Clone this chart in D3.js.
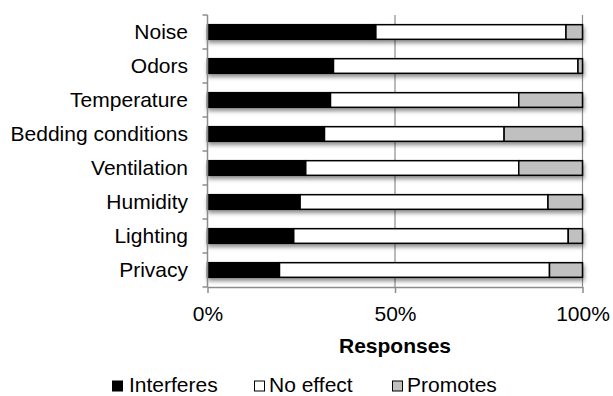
<!DOCTYPE html>
<html>
<head>
<meta charset="utf-8">
<script src="https://cdn.jsdelivr.net/npm/d3@7"></script>
<style>
  body { margin: 0; background: #fff; }
  svg { display: block; font-family: "Liberation Sans", Arial, Helvetica, sans-serif; }
</style>
</head>
<body>
<svg id="chart" width="613" height="396"></svg>
<script>
// Survey factors, top to bottom
const categories = ['Noise', 'Odors', 'Temperature', 'Bedding conditions',
  'Ventilation', 'Humidity', 'Lighting', 'Privacy'];

// Percent of responses per factor
const interferes = [44.9, 33.6, 32.8, 31.2, 26.2, 24.7, 23.0, 19.2];
const noEffect   = [50.7, 65.2, 50.2, 47.9, 56.8, 66.1, 73.2, 72.0];
const promotes   = [4.4, 1.2, 17.0, 20.9, 17.0, 9.2, 3.8, 8.8];

const seriesNames = ['Interferes', 'No effect', 'Promotes'];
const xTicks = [0, 50, 100];

const colors = { 'Interferes': '#000000', 'No effect': '#ffffff', 'Promotes': '#c0c0c0' };
const axisGray = '#8c8c8c';
const fontSize = 21;

const margin = { top: 15, right: 30.5, bottom: 109, left: 207.5 };
const width = 613, height = 396;

const svg = d3.select('#chart');

// soft shadow under each bar, like the spreadsheet export
const defs = svg.append('defs');
defs.append('filter')
    .attr('id', 'shadow')
    .attr('x', '-5%').attr('y', '-40%')
    .attr('width', '115%').attr('height', '220%')
  .append('feDropShadow')
    .attr('dx', 1).attr('dy', 3)
    .attr('stdDeviation', 2)
    .attr('flood-color', '#000')
    .attr('flood-opacity', 0.45);

const x = d3.scaleLinear()
  .domain([0, 100])
  .range([margin.left, width - margin.right]);

const y = d3.scaleBand()
  .domain(categories)
  .range([margin.top, height - margin.bottom])
  .paddingInner(0.57)
  .paddingOuter(0.285);

// stack the three series
const rows = categories.map((c, i) => ({
  category: c,
  'Interferes': interferes[i],
  'No effect': noEffect[i],
  'Promotes': promotes[i]
}));
const stacked = d3.stack().keys(seriesNames)(rows);

// gridlines at 50% and 100%
svg.append('g').attr('class', 'grid')
  .selectAll('line')
  .data(xTicks.filter((d) => d > 0))
  .join('line')
    .attr('x1', (d) => x(d)).attr('x2', (d) => x(d))
    .attr('y1', y.range()[0]).attr('y2', y.range()[1])
    .attr('stroke', axisGray)
    .attr('stroke-width', 1.2);

// bars
const bars = svg.append('g').attr('class', 'bars');
categories.forEach((c, i) => {
  const g = bars.append('g').attr('filter', 'url(#shadow)');
  stacked.forEach((layer) => {
    const seg = layer[i];
    g.append('rect')
      .attr('x', x(seg[0]))
      .attr('y', y(c))
      .attr('width', x(seg[1]) - x(seg[0]))
      .attr('height', y.bandwidth())
      .attr('fill', colors[layer.key])
      .attr('stroke', '#000')
      .attr('stroke-width', 1.5);
  });
});

// left axis: line with ticks at band boundaries
const half = (y.step() - y.bandwidth()) / 2;
const boundaries = categories.map((c) => y(c) - half).concat([y.range()[1]]);
const left = svg.append('g').attr('class', 'y-axis');
left.append('line')
  .attr('x1', x(0)).attr('x2', x(0))
  .attr('y1', y.range()[0]).attr('y2', y.range()[1])
  .attr('stroke', axisGray).attr('stroke-width', 1.5);
left.selectAll('.tick')
  .data(boundaries)
  .join('line')
    .attr('class', 'tick')
    .attr('x1', x(0) - 5).attr('x2', x(0))
    .attr('y1', (d) => d).attr('y2', (d) => d)
    .attr('stroke', axisGray).attr('stroke-width', 1.5);
left.selectAll('text')
  .data(categories)
  .join('text')
    .attr('x', 188)
    .attr('y', (d) => y(d) + y.bandwidth() / 2 + 7)
    .attr('text-anchor', 'end')
    .attr('font-size', fontSize)
    .attr('fill', '#000')
    .text((d) => d);

// bottom axis
const bottom = svg.append('g')
  .attr('class', 'x-axis')
  .attr('transform', `translate(0, ${y.range()[1]})`)
  .call(d3.axisBottom(x)
    .tickValues(xTicks)
    .tickSize(6)
    .tickSizeOuter(0)
    .tickPadding(13)
    .tickFormat((d) => d + '%'));
bottom.select('.domain').attr('stroke', axisGray).attr('stroke-width', 1.5);
bottom.selectAll('.tick line').attr('stroke', axisGray).attr('stroke-width', 1.5);
bottom.selectAll('.tick text')
  .attr('font-size', fontSize)
  .attr('font-family', '"Liberation Sans", Arial, sans-serif')
  .attr('fill', '#000');

// axis title
svg.append('text')
  .attr('x', x(50))
  .attr('y', 353)
  .attr('text-anchor', 'middle')
  .attr('font-size', fontSize)
  .attr('font-weight', 'bold')
  .text('Responses');

// legend
const legendX = [112, 254, 392];
const legend = svg.append('g').attr('class', 'legend');
seriesNames.forEach((name, i) => {
  const item = legend.append('g').attr('transform', `translate(${legendX[i]}, 380.5)`);
  item.append('rect')
    .attr('x', 0.5).attr('y', 0.5)
    .attr('width', 10).attr('height', 10)
    .attr('fill', colors[name])
    .attr('stroke', '#000')
    .attr('stroke-width', 1);
  item.append('text')
    .attr('x', i === 0 ? 17 : 15)
    .attr('y', 11.5)
    .attr('font-size', fontSize)
    .text(name);
});
</script>
</body>
</html>
